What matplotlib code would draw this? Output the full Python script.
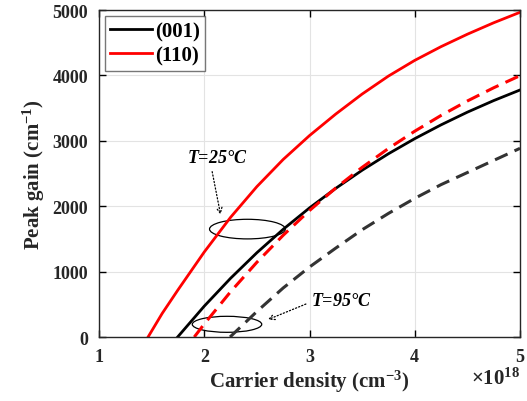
import matplotlib
matplotlib.use("Agg")
import matplotlib.pyplot as plt
from matplotlib.patches import Ellipse

plt.rcParams['font.family'] = ['Liberation Serif', 'DejaVu Serif']
plt.rcParams['font.weight'] = 'bold'
plt.rcParams['mathtext.fontset'] = 'custom'
plt.rcParams['mathtext.rm'] = 'Liberation Serif:bold'
plt.rcParams['mathtext.bf'] = 'Liberation Serif:bold'
plt.rcParams['mathtext.it'] = 'Liberation Serif:bold:italic'
plt.rcParams['mathtext.default'] = 'bf'

# Carrier density in units of 1e18 cm^-3, peak gain in cm^-1
n_001_25 = [1.747, 2.0, 2.25, 2.5, 2.75, 3.0, 3.25, 3.5, 3.75, 4.0, 4.25, 4.5, 4.75, 5.0]
g_001_25 = [0, 472, 898, 1289, 1647, 1974, 2274, 2550, 2802, 3033, 3244, 3438, 3615, 3777]

n_110_25 = [1.466, 1.6, 1.75, 2.0, 2.25, 2.5, 2.75, 3.0, 3.25, 3.5, 3.75, 4.0, 4.25, 4.5, 4.75, 5.0]
g_110_25 = [0, 360, 720, 1300, 1830, 2300, 2715, 3080, 3410, 3715, 3990, 4230, 4440, 4630, 4805, 4965]

n_001_95 = [2.245, 2.5, 2.75, 3.0, 3.25, 3.5, 3.75, 4.0, 4.25, 4.5, 4.75, 5.0]
g_001_95 = [0, 390, 750, 1070, 1360, 1640, 1890, 2120, 2330, 2515, 2700, 2885]

n_110_95 = [1.905, 2.0, 2.25, 2.5, 2.75, 3.0, 3.25, 3.5, 3.75, 4.0, 4.25, 4.5, 4.75, 5.0]
g_110_95 = [0, 199, 692, 1143, 1556, 1934, 2279, 2594, 2883, 3147, 3388, 3609, 3811, 3996]

legend_labels = ['(001)', '(110)']
x_ticks = [1, 2, 3, 4, 5]
y_ticks = [0, 1000, 2000, 3000, 4000, 5000]

fig = plt.figure(figsize=(5.27, 4.02), dpi=100)
ax = fig.add_axes([0.1879, 0.1592, 0.7988, 0.8134])

l1, = ax.plot(n_001_25, g_001_25, color='black', lw=2.0, label=legend_labels[0])
l2, = ax.plot(n_110_25, g_110_25, color='#ff0000', lw=2.0, label=legend_labels[1])
ax.plot(n_001_95, g_001_95, color='#333333', lw=2.2, dashes=(4.5, 2.5))
ax.plot(n_110_95, g_110_95, color='#ff0000', lw=2.2, dashes=(4.5, 2.5))

ax.set_xlim(1, 5)
ax.set_ylim(0, 5000)
ax.set_xticks(x_ticks)
ax.set_yticks(y_ticks)
ax.tick_params(direction='in', top=True, right=True, length=5, width=1, labelsize=13, pad=8)
for lab in ax.get_xticklabels() + ax.get_yticklabels():
    lab.set_fontweight('bold')
    lab.set_color('#262626')
ax.grid(True, color='#e3e3e3', lw=0.8)
ax.set_axisbelow(True)
for s in ax.spines.values():
    s.set_linewidth(1.0)
    s.set_color('#262626')

ax.set_xlabel('Carrier density (cm$^{-3}$)', fontsize=15, fontweight='bold', color='#262626', labelpad=2)
ax.set_ylabel('Peak gain (cm$^{-1}$)', fontsize=15, fontweight='bold', color='#262626', labelpad=4)
ax.text(1.0, -0.095, r'$\times 10^{18}$', transform=ax.transAxes, ha='right', va='top',
        fontsize=15, color='#262626')

leg = ax.legend(handles=[l1, l2], loc='upper left', fontsize=15, frameon=True, fancybox=False,
                borderaxespad=0.3, handlelength=2.0, handletextpad=0.15, borderpad=0.25,
                labelspacing=0.2)
leg.get_frame().set_edgecolor('#555555')
leg.get_frame().set_linewidth(1.0)
for t in leg.get_texts():
    t.set_fontweight('bold')

ax.add_patch(Ellipse((2.41, 1650), 0.72, 300, fill=False, ec='black', lw=0.9))
ax.add_patch(Ellipse((2.216, 194), 0.66, 245, fill=False, ec='black', lw=0.9))

ax.text(2.12, 2748, '$\\mathit{T}$=25°C', fontsize=13, style='italic', fontweight='bold',
        ha='center', va='center')
ax.text(3.306, 555, '$\\mathit{T}$=95°C', fontsize=13, style='italic', fontweight='bold',
        ha='center', va='center')
ax.annotate('', xy=(2.16, 1830), xytext=(2.07, 2570),
            arrowprops=dict(arrowstyle='->', ls=':', lw=0.9, color='black'))
ax.annotate('', xy=(2.58, 250), xytext=(2.99, 520),
            arrowprops=dict(arrowstyle='->', ls=':', lw=0.9, color='black'))

fig.savefig('out.png', dpi=100)
